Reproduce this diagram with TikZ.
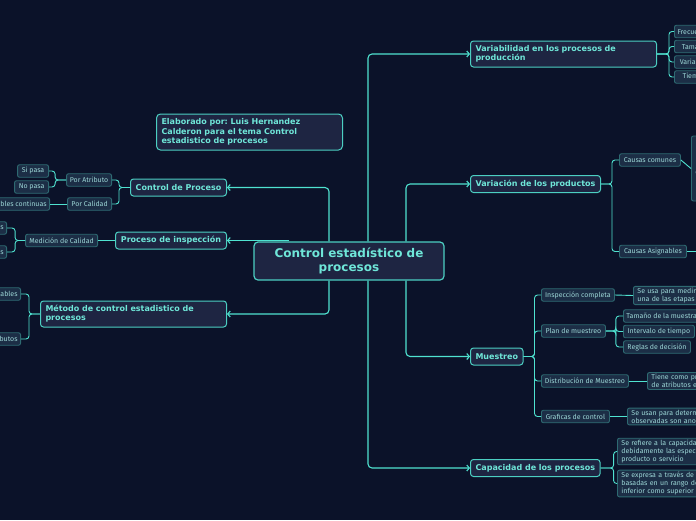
\documentclass[tikz,border=0pt]{standalone}
\usepackage{fontspec}
\setmainfont{Fira Sans}
\newfontfamily\headfont{DejaVu Sans}
\frenchspacing
\usetikzlibrary{positioning,arrows.meta}
\definecolor{bgnavy}{HTML}{0B1229}
\definecolor{boxfill}{HTML}{1E2542}
\definecolor{boxedge}{HTML}{4CCFC2}
\definecolor{boxtext}{HTML}{6FE6D8}
\definecolor{leaffill}{HTML}{1C2E46}
\definecolor{leafedge}{HTML}{2E6A72}
\definecolor{leaftext}{HTML}{9CD6D6}
\definecolor{wire}{HTML}{4FE2D0}

\begin{document}
\begin{tikzpicture}[x=1pt, y=-1pt,
hub/.style={draw=boxedge, fill=boxfill, line width=1.2pt, rounded corners=4pt, text=boxtext,
  font=\headfont\bfseries\fontsize{12}{14}\selectfont, align=center, minimum width=190pt, minimum height=38pt, inner sep=2pt},
topic/.style={draw=boxedge, fill=boxfill, line width=1pt, rounded corners=3pt, text=boxtext,
  font=\headfont\bfseries\fontsize{8}{9}\selectfont, minimum height=17pt, inner xsep=5pt, inner ysep=2pt},
leaf/.style={draw=leafedge, fill=leaffill, line width=0.9pt, rounded corners=2pt, text=leaftext,
  font=\fontsize{7}{8.3}\selectfont, minimum height=12.5pt, inner xsep=3pt, inner ysep=1.5pt},
note/.style={leaf, align=left, text width=190pt, inner xsep=4pt},
arr/.style={draw=wire, line width=1.1pt, rounded corners=4pt, -{Straight Barb[length=2.5pt,width=6pt]}},
twig/.style={draw=wire, line width=0.9pt, rounded corners=3pt}
]
\fill[bgnavy] (0,0) rectangle (696,520);
\useasboundingbox (0,0) rectangle (696,520);
\clip (0,0) rectangle (696,520);

% main branches
\node[hub] (ctr) at (349,261) {Control estadístico de\\procesos};
\node[topic, anchor=west, align=left, text width=176pt, minimum height=26pt] (vproc) at (470,54) {Variabilidad en los procesos de\\producción};
\node[topic, anchor=west, minimum width=130pt] (vprod) at (470,184) {Variación de los productos};
\node[topic, anchor=west, minimum width=52pt] (muest) at (470,356.5) {Muestreo};
\node[topic, anchor=west, minimum width=128pt] (capac) at (470,468) {Capacidad de los procesos};
\node[topic, anchor=east, minimum width=96pt] (cproc) at (227,187.5) {Control de Proceso};
\node[topic, anchor=east, minimum width=111pt] (insp) at (227,240.5) {Proceso de inspección};
\node[topic, anchor=east, align=left, text width=176pt, minimum height=26pt] (metodo) at (227,314) {Método de control estadistico de\\procesos};
\node[topic, anchor=west, align=left, text width=176pt, minimum height=36pt, rounded corners=4pt,
  font=\headfont\bfseries\fontsize{8}{9.5}\selectfont] (autor) at (156,132) {Elaborado por: Luis Hernandez\\Calderon para el tema Control\\estadistico de procesos};

\draw[arr] ([xshift=19pt]ctr.north) |- (vproc.west);
\draw[arr] ([xshift=57pt]ctr.north) |- (vprod.west);
\draw[arr] ([xshift=57pt]ctr.south) |- (muest.west);
\draw[arr] ([xshift=19pt]ctr.south) |- (capac.west);
\draw[arr] ([xshift=-20pt]ctr.north) |- (cproc.east);
\draw[arr] ([xshift=36pt]ctr.north west |- insp.east) -- (insp.east);
\draw[arr] ([xshift=-20pt]ctr.south) |- (metodo.east);

% left side
\node[leaf, anchor=east, minimum width=45pt] (patr) at (112,180) {Por Atributo};
\node[leaf, anchor=east, minimum width=44pt] (pcal) at (112,204) {Por Calidad};
\node[leaf, anchor=east, minimum width=31pt] (sipasa) at (49,171) {Si pasa};
\node[leaf, anchor=east, minimum width=34pt] (nopasa) at (49,187) {No pasa};
\node[leaf, anchor=east] (vcont) at (50,204) {Variables continuas};
\node[leaf, anchor=east, minimum width=72pt] (medc) at (98,240.5) {Medición de Calidad};
\node[leaf, anchor=east] (medv) at (7,228) {Especificaciones};
\node[leaf, anchor=east] (meda) at (7,252) {Tolerancias};
\node[leaf, anchor=east] (mvar) at (21,294) {Variables};
\node[leaf, anchor=east] (matr) at (21,339) {Atributos};

\foreach \k in {patr,pcal} \draw[twig] (cproc.west) -- ++(-11,0) |- (\k.east);
\foreach \k in {sipasa,nopasa} \draw[twig] (patr.west) -- ++(-11,0) |- (\k.east);
\draw[twig] (pcal.west) -- (vcont.east);
\draw[twig] (insp.west) -- (medc.east);
\foreach \k in {medv,meda} \draw[twig] (medc.west) -- ++(-10,0) |- (\k.east);
\foreach \k in {mvar,matr} \draw[twig] (metodo.west) -- ++(-11,0) |- (\k.east);

% right side
\node[leaf, anchor=west, minimum width=40pt] (frec) at (674,31.5) {Frecuencia};
\node[leaf, anchor=west, minimum width=40pt] (tam) at (674,46.5) {Tamaño};
\node[leaf, anchor=west, minimum width=40pt] (vari) at (674,62) {Variación};
\node[leaf, anchor=west, minimum width=40pt] (tiem) at (674,77) {Tiempo};
\foreach \k in {frec,tam,vari,tiem} \draw[twig] (vproc.east) -- ++(12,0) |- (\k.west);

\node[leaf, anchor=west, minimum width=61pt] (ccom) at (619,160) {Causas comunes};
\node[leaf, anchor=west, minimum width=67pt] (casig) at (619,251.5) {Causas Asignables};
\node[note, anchor=west, minimum height=65pt] (ccnote) at (691,168.5) {\hspace*{10pt}Variación aleatoria\\del proceso};
\coordinate (caend) at (720,251.5);
\foreach \k in {ccom,casig} \draw[twig] (vprod.east) -- ++(11,0) |- (\k.west);
\draw[twig] (ccom.east) -- (ccnote.west);
\draw[twig, line width=1.6pt] (casig.east) -- (caend);

\node[leaf, anchor=west, minimum width=73pt] (insc) at (541,295) {Inspección completa};
\node[leaf, anchor=west, minimum width=64pt] (plan) at (541,331) {Plan de muestreo};
\node[leaf, anchor=west, minimum width=87pt] (dist) at (541,381) {Distribución de Muestreo};
\node[leaf, anchor=west, minimum width=68pt] (graf) at (541,416.5) {Graficas de control};
\foreach \k in {insc,plan,dist,graf} \draw[twig] (muest.east) -- ++(11,0) |- (\k.west);

\node[note, anchor=west] (inscd) at (633,295.5) {Se usa para medir la calidad en cada\\una de las etapas del proceso};
\node[leaf, anchor=west, minimum width=74pt] (tmue) at (623,316) {Tamaño de la muestra};
\node[leaf, anchor=west, minimum width=71pt] (intv) at (623,331.5) {Intervalo de tiempo};
\node[leaf, anchor=west, minimum width=67pt] (regl) at (623,347) {Reglas de decisión};
\node[note, anchor=west] (distd) at (647,381) {Tiene como propósito la evaluación\\de atributos en una muestra};
\node[note, anchor=west] (grafd) at (627,416.5) {Se usan para determinar si las variaciones\\observadas son anormales};
\draw[twig] (insc.east) -- (inscd.west);
\foreach \k in {tmue,intv,regl} \draw[twig] (plan.east) -- ++(10,0) |- (\k.west);
\draw[twig] (dist.east) -- (distd.west);
\draw[twig] (graf.east) -- (grafd.west);

\node[note, anchor=west] (capd1) at (617,451.5) {Se refiere a la capacidad de cumplir\\debidamente las especificaciones del\\producto o servicio};
\node[note, anchor=west] (capd2) at (617,483.5) {Se expresa a través de índices\\basadas en un rango de límites tanto\\inferior como superior};
\foreach \k in {capd1,capd2} \draw[twig] (capac.east) -- ++(13,0) |- (\k.west);
\end{tikzpicture}
\end{document}
